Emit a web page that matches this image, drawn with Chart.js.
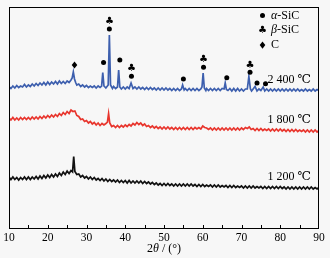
<!DOCTYPE html>
<html>
<head>
<meta charset="utf-8">
<script src="https://cdn.jsdelivr.net/npm/chart.js@4.4.1/dist/chart.umd.min.js"></script>
<style>
  html, body { margin: 0; padding: 0; background: #f7f7f7; }
  #wrap { position: relative; width: 330px; height: 258px; }
</style>
</head>
<body>
<div id="wrap"><canvas id="xrd"></canvas></div>
<script>
// XRD patterns, [2theta (deg), intensity (a.u.)]
const blue2400 = [
  [10,141.5],[10.5,139.5],[11,142],[11.5,140],[12,142.5],[12.5,140.5],[13,142],[13.5,141],[14,143.5],[14.5,141],
  [15,143],[15.5,141.5],[16,144],[16.5,142],[17,144.5],[17.5,142.5],[18,145],[18.5,143],[19,145.5],[19.5,143],
  [20,146],[20.5,143.5],[21,146],[21.5,144],[22,146.5],[22.5,144],[23,147],[23.5,144.5],[24,146.5],[24.5,144.5],
  [25,147],[25.5,145.5],[26,148],[26.3,150],[26.6,156],[26.9,149],[27.2,145.5],[27.5,143],[28,144],[28.5,141.5],
  [29,143],[29.5,141],[30,142.5],[30.5,140.5],[31,142],[31.5,140.5],[32,142],[32.5,140],[33,142],[33.5,140.5],
  [33.9,142],[34.2,155.5],[34.5,142],[35,140],[35.6,143],[35.9,193],[36.2,143],[36.7,139.5],[37,141.5],[37.5,139.5],
  [38,141],[38.3,158],[38.6,141],[39,139],[39.5,141],[40,139],[40.5,141],[41,139.5],[41.5,145],[42,139.5],
  [42.5,141],[43,139],[43.5,141],[44,139],[44.5,140.5],[45,138.5],[45.5,140.5],[46,138.5],[46.5,140.5],[47,138.5],
  [47.5,140],[48,138],[48.5,140],[49,138],[49.5,140],[50,138],[50.5,140],[51,138],[51.5,139.5],[52,137.5],
  [52.5,139.5],[53,137.5],[53.5,139.5],[54,137.5],[54.5,139],[54.8,143],[55.2,138],[55.5,139.5],[56,137.5],[56.5,139.5],
  [57,137.5],[57.5,139.5],[58,137.5],[58.5,139.5],[59,137.5],[59.5,139],[59.8,141],[60.1,155],[60.4,140],[60.8,137.5],
  [61,139.5],[61.5,137.5],[62,139.5],[62.5,137.5],[63,139.5],[63.5,137.5],[64,139.5],[64.5,137.5],[65,139.5],[65.5,139],
  [65.8,145],[66.1,138.5],[66.5,137.5],[67,139.5],[67.5,137],[68,139.5],[68.5,137],[69,139.5],[69.5,137],[70,139],
  [70.5,137],[71,139],[71.5,139],[71.9,151.5],[72.3,139],[72.6,137],[73,139],[73.5,141.5],[74,137],[74.5,139],
  [75,137.5],[75.6,141],[76,137],[76.5,139],[77,137],[77.5,139],[78,137],[78.5,139],[79,137],[79.5,139],
  [80,137],[80.5,139],[81,137],[81.5,139],[82,137],[82.5,139],[83,137],[83.5,139],[84,137],[84.5,139],
  [85,137],[85.5,138.5],[86,137],[86.5,139],[87,137],[87.5,138.5],[88,137],[88.5,139],[89,137],[89.5,138.5],[90,137.5]
];
const red1800 = [
  [10,110],[10.5,108],[11,110.5],[11.5,108],[12,110],[12.5,108],[13,110.5],[13.5,108.5],[14,110.5],[14.5,108.5],
  [15,110.5],[15.5,108.5],[16,111],[16.5,109],[17,111],[17.5,109],[18,111.5],[18.5,109.5],[19,112],[19.5,110],
  [20,112.5],[20.5,110.5],[21,113],[21.5,111],[22,113.5],[22.5,111.5],[23,114.5],[23.5,112.5],[24,115.5],[24.5,113.5],
  [25,116.5],[25.5,114.5],[26,118],[26.5,116.5],[27,117],[27.5,112.5],[28,111.5],[28.5,108.5],[29,109],[29.5,106.5],
  [30,107.5],[30.5,105],[31,106.5],[31.5,104],[32,105.5],[32.5,103],[33,105],[33.5,102.5],[34,104.5],[34.5,103],
  [35,104.5],[35.4,106],[35.7,114.5],[36,105],[36.5,101.5],[37,102.5],[37.5,100.5],[38,102.5],[38.5,100.5],[39,102.5],
  [39.5,101],[40,103],[40.5,101.5],[41,103.5],[41.5,102],[42,104.5],[42.5,103],[43,105.5],[43.5,103.5],[44,105],
  [44.5,102.5],[45,104],[45.5,101.5],[46,102.5],[46.5,100.5],[47,102],[47.5,100],[48,101.5],[48.5,99.5],[49,101],
  [49.5,99],[50,101],[50.5,99],[51,101],[51.5,99],[52,100.5],[52.5,98.5],[53,100.5],[53.5,98.5],[54,100.5],
  [54.5,98.5],[55,100.5],[55.5,98.5],[56,100.5],[56.5,98.5],[57,100.5],[57.5,98.5],[58,100.5],[58.5,99],[59,100.5],
  [59.5,99],[60,102],[60.5,100.5],[61,100],[61.5,98.5],[62,100],[62.5,98],[63,100],[63.5,98],[64,100],
  [64.5,98],[65,100],[65.5,98],[66,100],[66.5,98],[67,100],[67.5,98],[68,100],[68.5,98],[69,100],
  [69.5,98],[70,100],[70.5,98.5],[71,100.5],[71.5,99.5],[72,101],[72.5,98.5],[73,99.5],[73.5,97.5],[74,99.5],
  [74.5,97.5],[75,99.5],[75.5,97.5],[76,99],[76.5,97.5],[77,99],[77.5,97],[78,99],[78.5,97],[79,99],
  [79.5,97],[80,99],[80.5,97],[81,98.5],[81.5,96.5],[82,98.5],[82.5,96.5],[83,98.5],[83.5,96.5],[84,98.5],
  [84.5,96.5],[85,98],[85.5,96.5],[86,98],[86.5,96],[87,98],[87.5,96],[88,98],[88.5,96],[89,98],[89.5,96],[90,97.5]
];
const black1200 = [
  [10,51],[10.5,48.5],[11,51],[11.5,48.5],[12,50.5],[12.5,48],[13,50.5],[13.5,48.5],[14,51],[14.5,48.5],
  [15,51],[15.5,48.5],[16,51],[16.5,49],[17,51.5],[17.5,49],[18,52],[18.5,49.5],[19,52.5],[19.5,50],
  [20,53],[20.5,50.5],[21,53.5],[21.5,51],[22,54],[22.5,51.5],[23,55],[23.5,52.5],[24,56],[24.5,53.5],
  [25,57],[25.5,54.5],[26,57.5],[26.4,56],[26.7,71.5],[27,56.5],[27.5,53.5],[28,54],[28.5,51],[29,52.5],
  [29.5,50],[30,51.5],[30.5,49],[31,51],[31.5,48.5],[32,50.5],[32.5,48],[33,49.5],[33.5,47.5],[34,49.5],
  [34.5,47],[35,49],[35.5,46.5],[36,48.5],[36.5,46.5],[37,48],[37.5,46],[38,48],[38.5,45.5],[39,47.5],
  [39.5,45.5],[40,47.5],[40.5,45],[41,47.5],[41.5,45],[42,47],[42.5,45],[43,47],[43.5,45],[44,47],
  [44.5,44.5],[45,46.5],[45.5,44.5],[46,46],[46.5,44],[47,45.5],[47.5,43.5],[48,45],[48.5,43],[49,44.5],
  [49.5,42.5],[50,44.5],[50.5,42.5],[51,44.5],[51.5,42.5],[52,44],[52.5,42],[53,44],[53.5,42],[54,44],
  [54.5,42],[55,44],[55.5,42],[56,44],[56.5,42],[57,44],[57.5,42],[58,43.5],[58.5,41.5],[59,43.5],
  [59.5,41.5],[60,43.5],[60.5,41.5],[61,43],[61.5,41.5],[62,43],[62.5,41],[63,43],[63.5,41],[64,43],
  [64.5,41],[65,42.5],[65.5,41],[66,42.5],[66.5,40.5],[67,42.5],[67.5,40.5],[68,42.5],[68.5,40.5],[69,42],
  [69.5,40.5],[70,42],[70.5,40],[71,42],[71.5,40],[72,42],[72.5,40],[73,42],[73.5,40],[74,41.5],
  [74.5,40],[75,41.5],[75.5,39.5],[76,41.5],[76.5,39.5],[77,41.5],[77.5,39.5],[78,41.5],[78.5,39.5],[79,41.5],
  [79.5,39.5],[80,41.5],[80.5,39.5],[81,41],[81.5,39],[82,41],[82.5,39],[83,41],[83.5,39],[84,41],
  [84.5,39],[85,41],[85.5,39],[86,41],[86.5,39],[87,41],[87.5,39],[88,41],[88.5,39],[89,40.5],[89.5,39],[90,40.5]
];

// phase markers over the 2 400 C pattern: [2theta, level]
const alphaMarks = [[34.4,165.5],[35.9,199],[38.6,168],[41.6,151.7],[55,149],[60.2,160.7],[66.2,150.3],[72.2,155.7],[74,145],[76.2,144.3]];
const betaMarks = [[35.9,207],[41.6,159.7],[60.2,168.7],[72.2,162.7]];
const carbonMarks = [[26.9,163]];

const curveLabels = [['2 400 ℃', 148], ['1 800 ℃', 108], ['1 200 ℃', 51.3]];
const legendRows = [['●', 'α', '-SiC'], ['♣', 'β', '-SiC'], ['♦', '', 'C']];

const serif = "'Liberation Serif', 'DejaVu Serif', serif";

function toXY(arr) { return arr.map(p => ({ x: p[0], y: p[1] })); }

function drawGlyph(ctx, g, x, y) {
  if (g === '●') {
    ctx.beginPath();
    ctx.arc(x, y, 2.5, 0, Math.PI * 2);
    ctx.fill();
  } else if (g === '♦') {
    ctx.beginPath();
    ctx.moveTo(x, y - 3.6);
    ctx.lineTo(x + 2.8, y);
    ctx.lineTo(x, y + 3.6);
    ctx.lineTo(x - 2.8, y);
    ctx.closePath();
    ctx.fill();
  } else {
    ctx.font = "10px 'DejaVu Sans'";
    ctx.textAlign = 'center';
    ctx.textBaseline = 'middle';
    ctx.fillText(g, x, y);
  }
}

const decor = {
  id: 'decor',
  afterDraw(chart) {
    const { ctx, chartArea: a, scales: { x, y } } = chart;
    ctx.save();
    ctx.strokeStyle = '#000';
    ctx.fillStyle = '#000';
    ctx.lineWidth = 1;
    ctx.strokeRect(a.left + 0.5, a.top + 0.5, a.right - a.left - 1, a.bottom - a.top);
    // inward ticks every 5 deg
    ctx.beginPath();
    for (let v = 15; v < 90; v += 5) {
      const px = Math.round(x.getPixelForValue(v)) + 0.5;
      ctx.moveTo(px, a.bottom);
      ctx.lineTo(px, a.bottom - 3);
    }
    ctx.stroke();

    alphaMarks.forEach(m => drawGlyph(ctx, '●', x.getPixelForValue(m[0]), y.getPixelForValue(m[1])));
    betaMarks.forEach(m => drawGlyph(ctx, '♣', x.getPixelForValue(m[0]), y.getPixelForValue(m[1])));
    carbonMarks.forEach(m => drawGlyph(ctx, '♦', x.getPixelForValue(m[0]), y.getPixelForValue(m[1])));

    // temperature labels
    ctx.font = '12px ' + serif;
    ctx.textAlign = 'right';
    ctx.textBaseline = 'middle';
    curveLabels.forEach(l => ctx.fillText(l[0], a.right - 8, y.getPixelForValue(l[1])));

    // legend
    legendRows.forEach((r, i) => {
      const ly = a.top + 8.5 + i * 14.8;
      drawGlyph(ctx, r[0], a.left + 253.5, ly);
      ctx.textAlign = 'left';
      ctx.textBaseline = 'middle';
      let tx = a.left + 262;
      if (r[1]) {
        ctx.font = 'italic 12px ' + serif;
        ctx.fillText(r[1], tx, ly);
        tx += ctx.measureText(r[1]).width;
      }
      ctx.font = '12px ' + serif;
      ctx.fillText(r[2], tx, ly);
    });

    // x axis title: 2θ / (°)
    const parts = [['2', ''], ['θ', 'italic '], [' / (°)', '']];
    let total = 0;
    parts.forEach(p => { ctx.font = p[1] + '12px ' + serif; total += ctx.measureText(p[0]).width; });
    let tx = (a.left + a.right) / 2 - total / 2;
    ctx.textAlign = 'left';
    ctx.textBaseline = 'middle';
    parts.forEach(p => {
      ctx.font = p[1] + '12px ' + serif;
      ctx.fillText(p[0], tx, 249);
      tx += ctx.measureText(p[0]).width;
    });
    ctx.restore();
  }
};

function lineSet(data, color) {
  return {
    data: toXY(data),
    borderColor: color,
    borderWidth: 1.7,
    pointRadius: 0,
    tension: 0,
    fill: false
  };
}

new Chart(document.getElementById('xrd'), {
  type: 'line',
  data: {
    datasets: [
      lineSet(blue2400, '#3d5fae'),
      lineSet(red1800, '#e8352d'),
      lineSet(black1200, '#111111')
    ]
  },
  options: {
    responsive: true,
    maintainAspectRatio: false,
    animation: false,
    layout: { padding: { left: 9, right: 11, top: 7, bottom: 0 } },
    plugins: { legend: { display: false }, tooltip: { enabled: false } },
    scales: {
      x: {
        type: 'linear',
        min: 10,
        max: 90,
        grid: { display: false, drawTicks: false },
        border: { display: false },
        ticks: { stepSize: 10, padding: 3, color: '#000', font: { family: serif, size: 11.5 }, maxRotation: 0 },
        afterFit(scale) { scale.height = 30; }
      },
      y: { display: false, min: 0, max: 221 }
    }
  },
  plugins: [decor]
});
</script>
</body>
</html>
